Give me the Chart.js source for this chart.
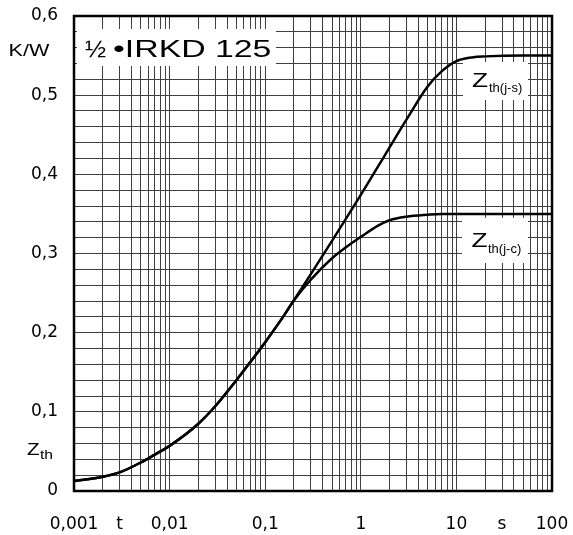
<!DOCTYPE html>
<html>
<head>
<meta charset="utf-8">
<script src="https://cdn.jsdelivr.net/npm/chart.js@4.4.1/dist/chart.umd.min.js"></script>
<style>
  html, body { margin: 0; padding: 0; background: #fff; }
  #wrap { width: 573px; height: 535px; }
</style>
</head>
<body>
<div id="wrap"><canvas id="zth-chart"></canvas></div>
<script>
// ── Data ───────────────────────────────────────────
const times = [0.001, 0.002, 0.003, 0.005, 0.007, 0.01, 0.02, 0.03, 0.05, 0.07, 0.1, 0.15, 0.2,
               0.3, 0.5, 0.7, 1, 1.5, 2, 3, 5, 7, 10, 15, 20, 50, 100];
const zthJS = [0.0126, 0.018, 0.0235, 0.036, 0.046, 0.057, 0.085, 0.107, 0.14, 0.163, 0.188, 0.218, 0.241,
               0.274, 0.316, 0.344, 0.374, 0.409, 0.434, 0.469, 0.511, 0.53, 0.543, 0.548, 0.549, 0.55, 0.55];
const zthJC = [0.0126, 0.018, 0.0235, 0.036, 0.046, 0.057, 0.085, 0.107, 0.14, 0.163, 0.188, 0.218, 0.241,
               0.267, 0.294, 0.308, 0.321, 0.335, 0.342, 0.3465, 0.349, 0.35, 0.35, 0.35, 0.35, 0.35, 0.35];

// ── Axis ticks ──────────────────────────────────────
const xDecades = [0.001, 0.01, 0.1, 1, 10];
const xTickLabels = [[0.001, '0,001'], [0.003, 't'], [0.01, '0,01'], [0.1, '0,1'],
                     [1, '1'], [10, '10'], [30, 's'], [100, '100']];
const yStep = 0.02;
const yMax = 0.6;

const xGrid = [];
xDecades.forEach(d => {
    for (let m = 1; m <= 9; m++) xGrid.push(parseFloat((m * d).toPrecision(3)));
});
xGrid.push(100);

const yGrid = [];
for (let i = 0; i <= Math.round(yMax / yStep); i++) yGrid.push(parseFloat((i * yStep).toFixed(2)));

function xLabel(v) {
    const hit = xTickLabels.find(p => Math.abs(Math.log10(p[0]) - Math.log10(v)) < 1e-6);
    return hit ? hit[1] : '';
}
function yLabel(v) {
    const t = v * 10;
    if (Math.abs(t - Math.round(t)) > 1e-6) return '';
    return v === 0 ? '0' : v.toFixed(1).replace('.', ',');
}

// ── Text helper: datasheet lettering is wide ────────
function wideText(ctx, text, x, y, size, sx) {
    ctx.save();
    ctx.font = size + 'px "Liberation Sans", Arial, sans-serif';
    ctx.textAlign = 'left';
    ctx.textBaseline = 'alphabetic';
    ctx.fillStyle = '#000';
    ctx.translate(x, y);
    ctx.scale(sx, 1);
    ctx.fillText(text, 0, 0);
    ctx.restore();
}

const annotations = {
    id: 'annotations',
    beforeDatasetsDraw(chart) {
        const ctx = chart.ctx;
        ctx.save();
        ctx.fillStyle = '#fff';
        ctx.fillRect(77, 29, 199, 37);   // title box
        ctx.fillRect(463, 62, 65, 38);   // Zth(j-s)
        ctx.fillRect(462, 218, 66, 45);  // Zth(j-c)
        ctx.restore();
    },
    afterDraw(chart) {
        const ctx = chart.ctx;
        const a = chart.chartArea;
        ctx.save();
        ctx.strokeStyle = '#000';
        ctx.lineWidth = 2.5;
        ctx.strokeRect(a.left, a.top, a.right - a.left, a.bottom - a.top);
        ctx.restore();

        wideText(ctx, '½', 85, 56.5, 23, 1.1);
        wideText(ctx, '•IRKD 125', 113, 56.5, 23, 1.47);

        wideText(ctx, 'Z', 472, 87, 21, 1.25);
        wideText(ctx, 'th(j-s)', 489, 91.5, 13, 1.0);
        wideText(ctx, 'Z', 471.5, 247, 21, 1.25);
        wideText(ctx, 'th(j-c)', 488, 252.5, 13, 1.0);

        wideText(ctx, 'K/W', 8.5, 56, 16, 1.35);
        wideText(ctx, 'Z', 27, 455, 16.5, 1.25);
        wideText(ctx, 'th', 40, 459, 13, 1.2);
    }
};

const tickFont = { family: '"DejaVu Sans", sans-serif', size: 17 };
const gridStyle = { color: '#404040', lineWidth: 1, drawTicks: false };

new Chart(document.getElementById('zth-chart'), {
    type: 'line',
    data: {
        datasets: [
            {
                label: 'Zth(j-s)',
                data: times.map((t, i) => ({ x: t, y: zthJS[i] })),
                borderColor: '#000',
                borderWidth: 2.5,
                pointRadius: 0,
                cubicInterpolationMode: 'monotone',
                fill: false
            },
            {
                label: 'Zth(j-c)',
                data: times.map((t, i) => ({ x: t, y: zthJC[i] })),
                borderColor: '#000',
                borderWidth: 2.5,
                pointRadius: 0,
                cubicInterpolationMode: 'monotone',
                fill: false
            }
        ]
    },
    options: {
        responsive: true,
        maintainAspectRatio: false,
        animation: false,
        layout: { padding: { top: 16, right: 21, left: 0, bottom: 0 } },
        plugins: { legend: { display: false }, tooltip: { enabled: false } },
        scales: {
            x: {
                type: 'logarithmic',
                min: 0.001,
                max: 100,
                afterBuildTicks: s => { s.ticks = xGrid.map(v => ({ value: v })); },
                afterFit: s => { s.height = 44; s.paddingLeft = 0; s.paddingRight = 0; },
                grid: gridStyle,
                border: { display: false },
                ticks: {
                    autoSkip: false,
                    maxRotation: 0,
                    padding: 23,
                    color: '#000',
                    font: tickFont,
                    callback: v => xLabel(v)
                }
            },
            y: {
                type: 'linear',
                min: 0,
                max: yMax,
                afterBuildTicks: s => { s.ticks = yGrid.map(v => ({ value: v })); },
                afterFit: s => { s.width = 74; s.paddingTop = 0; s.paddingBottom = 0; },
                grid: gridStyle,
                border: { display: false },
                ticks: {
                    autoSkip: false,
                    padding: 16,
                    color: '#000',
                    font: tickFont,
                    callback: v => yLabel(v)
                }
            }
        }
    },
    plugins: [annotations]
});
</script>
</body>
</html>
